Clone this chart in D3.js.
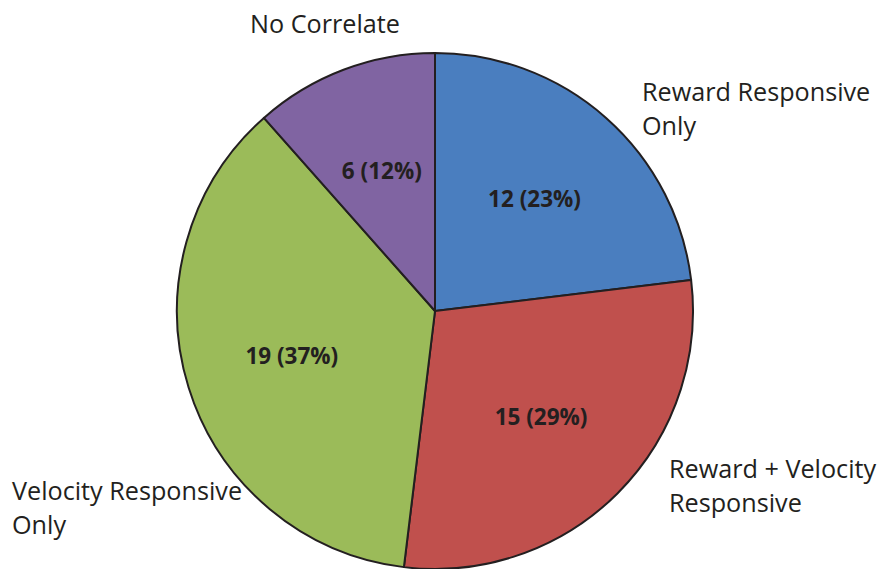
<!DOCTYPE html>
<html>
<head>
<meta charset="utf-8">
<script src="https://cdn.jsdelivr.net/npm/d3@7"></script>
<style>
  html, body { margin: 0; padding: 0; background: #fff; }
  svg { display: block; }
  text { font-family: "Open Sans", "Noto Sans", sans-serif; fill: #231f20; }
</style>
</head>
<body>
<svg id="chart" width="878" height="569"></svg>
<script>
// Neuron classification counts, clockwise from 12 o'clock
const categories = ["Reward Responsive Only", "Reward + Velocity Responsive", "Velocity Responsive Only", "No Correlate"];
const counts = [12, 15, 19, 6];
const percents = [23, 29, 37, 12];
const colors = ["#4a7ebf", "#c0504d", "#9bbb59", "#8064a2"];

const svg = d3.select("#chart");
const cx = 435, cy = 311, radius = 258;

const pie = d3.pie().sort(null).value(d => d.count);
const arcs = pie(counts.map((c, i) => ({ name: categories[i], count: c, pct: percents[i], color: colors[i] })));

const arc = d3.arc().innerRadius(0).outerRadius(radius);
const labelArc = d3.arc().innerRadius(150).outerRadius(150);

const g = svg.append("g").attr("transform", `translate(${cx},${cy})`);

g.selectAll("path.slice")
  .data(arcs)
  .join("path")
  .attr("class", "slice")
  .attr("d", arc)
  .attr("fill", d => d.data.color)
  .attr("stroke", "#231f20")
  .attr("stroke-width", 2)
  .attr("stroke-linejoin", "round");

g.selectAll("text.value")
  .data(arcs)
  .join("text")
  .attr("class", "value")
  .attr("transform", d => `translate(${labelArc.centroid(d)})`)
  .attr("text-anchor", "middle")
  .attr("dy", "0.35em")
  .attr("font-size", 22.5)
  .attr("font-weight", "bold")
  .text(d => `${d.data.count} (${d.data.pct}%)`);

// Category names placed outside the pie
const outer = [
  { lines: ["No Correlate"], x: 250, y: 33 },
  { lines: ["Reward Responsive", "Only"], x: 642, y: 101 },
  { lines: ["Reward + Velocity", "Responsive"], x: 669, y: 478 },
  { lines: ["Velocity Responsive", "Only"], x: 12, y: 500 }
];
const order = [3, 0, 1, 2];
outer.forEach((o, k) => {
  const t = svg.append("text")
    .attr("x", o.x).attr("y", o.y)
    .attr("font-size", 25.2)
    .attr("data-name", categories[order[k]]);
  o.lines.forEach((line, j) => {
    t.append("tspan").attr("x", o.x).attr("dy", j === 0 ? 0 : 34).text(line);
  });
});
</script>
</body>
</html>
